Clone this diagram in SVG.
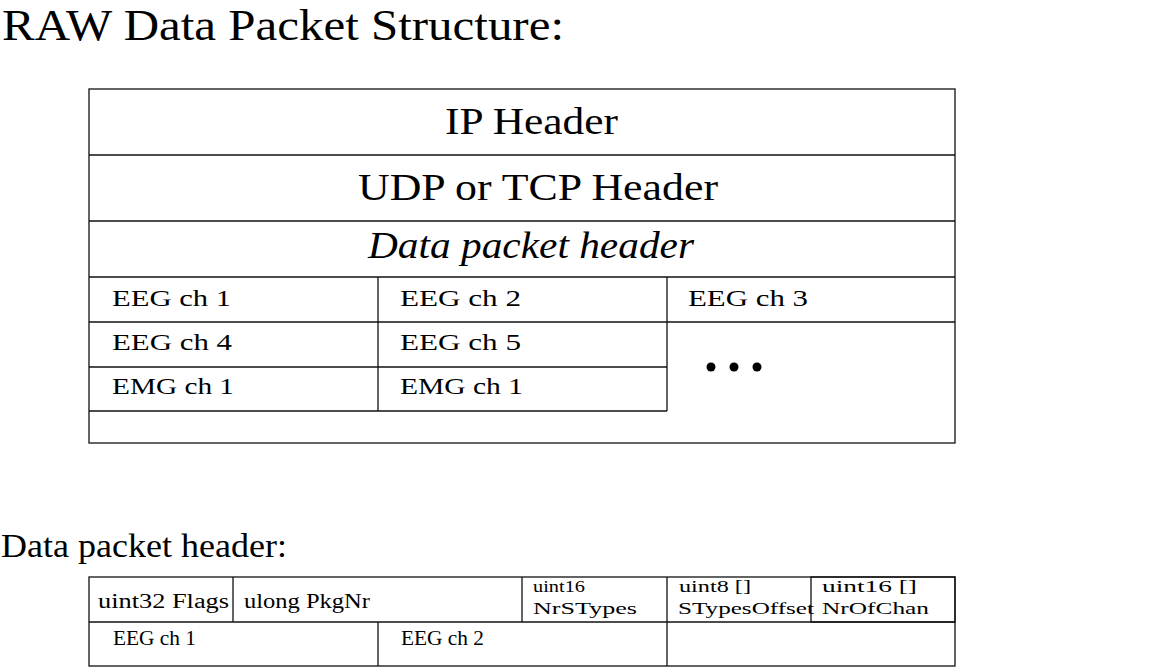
<svg xmlns="http://www.w3.org/2000/svg" width="1155" height="667" viewBox="0 0 1155 667">
<style>
  .ln { fill: none; stroke: #111; stroke-width: 1.3; }
  .t { font-family: "Liberation Serif", "DejaVu Serif", serif; fill: #000; }
  .big { font-size: 38px; }
  .mid { font-size: 24px; }
  .sm { font-size: 20px; }
  .xs { font-size: 17px; }
</style>
<rect width="1155" height="667" fill="#fff"/>
<text class="t" x="2" y="40" font-size="45" textLength="562" lengthAdjust="spacingAndGlyphs">RAW Data Packet Structure:</text>

<g id="raw-packet">
  <rect class="ln" x="89" y="89" width="866" height="354"/>
  <g id="ip-header">
    <line class="ln" x1="89" y1="155" x2="955" y2="155"/>
    <text class="t big" x="445" y="134" textLength="173" lengthAdjust="spacingAndGlyphs">IP Header</text>
  </g>
  <g id="udp-tcp-header">
    <line class="ln" x1="89" y1="221" x2="955" y2="221"/>
    <text class="t big" x="358" y="200" textLength="360" lengthAdjust="spacingAndGlyphs">UDP or TCP Header</text>
  </g>
  <g id="data-packet-header">
    <line class="ln" x1="89" y1="277" x2="955" y2="277"/>
    <text class="t big" x="368" y="258" font-style="italic" textLength="326" lengthAdjust="spacingAndGlyphs">Data packet header</text>
  </g>
  <g id="channels">
    <line class="ln" x1="89" y1="322" x2="955" y2="322"/>
    <line class="ln" x1="89" y1="367" x2="667" y2="367"/>
    <line class="ln" x1="89" y1="411" x2="667" y2="411"/>
    <line class="ln" x1="378" y1="277" x2="378" y2="411"/>
    <line class="ln" x1="667" y1="277" x2="667" y2="411"/>
    <text class="t mid" x="112" y="306" textLength="119" lengthAdjust="spacingAndGlyphs">EEG ch 1</text>
    <text class="t mid" x="400" y="306" textLength="121" lengthAdjust="spacingAndGlyphs">EEG ch 2</text>
    <text class="t mid" x="688" y="306" textLength="120" lengthAdjust="spacingAndGlyphs">EEG ch 3</text>
    <text class="t mid" x="112" y="350" textLength="120" lengthAdjust="spacingAndGlyphs">EEG ch 4</text>
    <text class="t mid" x="400" y="350" textLength="121" lengthAdjust="spacingAndGlyphs">EEG ch 5</text>
    <text class="t mid" x="112" y="394" textLength="122" lengthAdjust="spacingAndGlyphs">EMG ch 1</text>
    <text class="t mid" x="400" y="394" textLength="123" lengthAdjust="spacingAndGlyphs">EMG ch 1</text>
    <circle cx="711" cy="367" r="4.5" fill="#000"/>
    <circle cx="734" cy="367" r="4.5" fill="#000"/>
    <circle cx="757" cy="367" r="4.5" fill="#000"/>
  </g>
</g>

<text class="t" x="1" y="557" font-size="34" textLength="286" lengthAdjust="spacingAndGlyphs">Data packet header:</text>

<g id="header-detail">
  <rect class="ln" x="89" y="577" width="866" height="89"/>
  <line class="ln" x1="89" y1="622" x2="955" y2="622"/>
  <g id="flags">
    <line class="ln" x1="233" y1="577" x2="233" y2="622"/>
    <text class="t sm" x="98" y="608" textLength="131" lengthAdjust="spacingAndGlyphs">uint32 Flags</text>
  </g>
  <g id="pkgnr">
    <line class="ln" x1="522" y1="577" x2="522" y2="622"/>
    <text class="t sm" x="244" y="608" textLength="126" lengthAdjust="spacingAndGlyphs">ulong PkgNr</text>
  </g>
  <g id="nrstypes">
    <line class="ln" x1="667" y1="577" x2="667" y2="666"/>
    <text class="t xs" x="533" y="592" textLength="52" lengthAdjust="spacingAndGlyphs">uint16</text>
    <text class="t xs" x="533" y="614" textLength="104" lengthAdjust="spacingAndGlyphs">NrSTypes</text>
  </g>
  <g id="stypesoffset">
    <text class="t xs" x="679" y="592" textLength="72" lengthAdjust="spacingAndGlyphs">uint8 []</text>
    <text class="t xs" x="678" y="614" textLength="136" lengthAdjust="spacingAndGlyphs">STypesOffset</text>
  </g>
  <g id="nrofchan">
    <rect class="ln" x="811" y="577" width="144" height="45"/>
    <text class="t xs" x="822" y="592" textLength="95" lengthAdjust="spacingAndGlyphs">uint16 []</text>
    <text class="t xs" x="822" y="614" textLength="107" lengthAdjust="spacingAndGlyphs">NrOfChan</text>
  </g>
  <g id="eeg-detail">
    <line class="ln" x1="378" y1="622" x2="378" y2="666"/>
    <text class="t sm" x="113" y="645" textLength="83" lengthAdjust="spacingAndGlyphs">EEG ch 1</text>
    <text class="t sm" x="401" y="645" textLength="83" lengthAdjust="spacingAndGlyphs">EEG ch 2</text>
  </g>
</g>
</svg>
